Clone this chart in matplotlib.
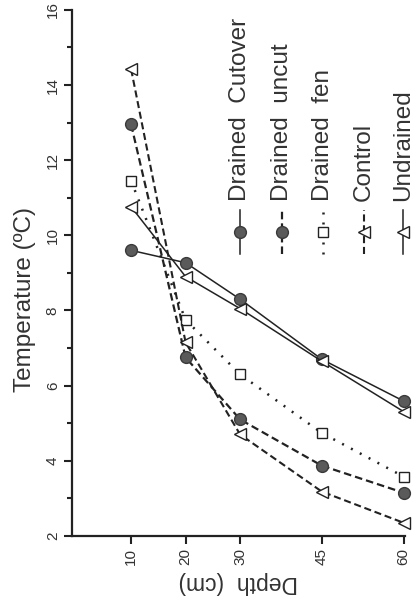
import matplotlib
matplotlib.use("Agg")
import matplotlib.pyplot as plt
from matplotlib.lines import Line2D

plt.rcParams['font.family'] = ['Liberation Sans', 'DejaVu Sans']

depth = [10, 20, 30, 45, 60]
drained_cutover = [9.6, 9.27, 8.3, 6.7, 5.59]
drained_uncut = [12.95, 6.75, 5.1, 3.87, 3.15]
drained_fen = [11.45, 7.75, 6.3, 4.74, 3.58]
control = [14.42, 7.15, 4.7, 3.18, 2.35]
undrained = [10.76, 8.9, 8.05, 6.65, 5.31]

series_names = ["Drained  Cutover", "Drained  uncut", "Drained  fen", "Control", "Undrained"]
y_ticks = [2, 4, 6, 8, 10, 12, 14, 16]
y_minor = [3, 5, 7, 9, 11, 13, 15]
x_ticks = [10, 20, 30, 45, 60]

fill = '#5a5a5a'
styles = [
    dict(ls='-', marker='o', mfc=fill, mec='#3a3a3a', ms=8.5, lw=1.1),
    dict(ls=(0, (3.4, 1.8)), marker='o', mfc=fill, mec='#3a3a3a', ms=8.5, lw=1.6),
    dict(ls=(0, (0.8, 3.2)), marker='s', mfc='white', mec='#222222', ms=7.2, lw=1.8),
    dict(ls=(0, (3.4, 1.8)), marker='<', mfc='white', mec='#222222', ms=8, lw=1.5),
    dict(ls='-', marker='<', mfc='white', mec='#222222', ms=8, lw=1.1),
]
data = [drained_cutover, drained_uncut, drained_fen, control, undrained]

fig = plt.figure(figsize=(4.13, 6.16), dpi=100)
ax = fig.add_axes([0.175, 0.13, 0.806, 0.854])

for vals, st in zip(data, styles):
    ax.plot(depth, vals, color='#222222', mew=1.0, zorder=3, clip_on=False, **st)

ax.set_xlim(-0.8, 60.3)
ax.set_ylim(2, 16)
ax.set_xticks(x_ticks)
ax.set_xticklabels([str(v) for v in x_ticks], rotation=90, fontsize=11, color='#333333')
ax.set_yticks(y_ticks)
ax.set_yticklabels([str(v) for v in y_ticks], rotation=90, va='center', fontsize=11, color='#333333')
ax.set_yticks(y_minor, minor=True)
ax.tick_params(axis='both', which='major', direction='out', length=6, width=1.5, color='#222222', pad=3)
ax.tick_params(axis='y', which='minor', direction='out', length=3.5, width=1.5, color='#222222')
for s in ['top', 'right']:
    ax.spines[s].set_visible(False)
for s in ['left', 'bottom']:
    ax.spines[s].set_linewidth(1.6)
    ax.spines[s].set_color('#222222')

ax.set_ylabel('Temperature (ºC)', fontsize=17.5, color='#333333')
ax.yaxis.set_label_coords(-0.108, 0.45)
ax.set_xlabel('Depth  (cm)', fontsize=16.5, color='#333333', rotation=180, labelpad=4)

# rotated legend drawn manually (axes-fraction coordinates)
leg_x = [0.505, 0.629, 0.752, 0.877, 0.994]
for xpos, name, st in zip(leg_x, series_names, styles):
    ln = Line2D([xpos, xpos], [0.535, 0.62], transform=ax.transAxes, color='#222222',
                ls=st['ls'], lw=st['lw'], clip_on=False)
    ax.add_line(ln)
    mk = Line2D([xpos], [0.5775], transform=ax.transAxes, color='#222222', ls='none',
                marker=st['marker'], mfc=st['mfc'], mec=st['mec'], ms=st['ms'], mew=1.0,
                clip_on=False)
    ax.add_line(mk)
    ax.text(xpos, 0.637, name, transform=ax.transAxes, rotation=90, ha='center', va='bottom',
            fontsize=17.5, color='#333333')

fig.savefig('out.png', dpi=100)
